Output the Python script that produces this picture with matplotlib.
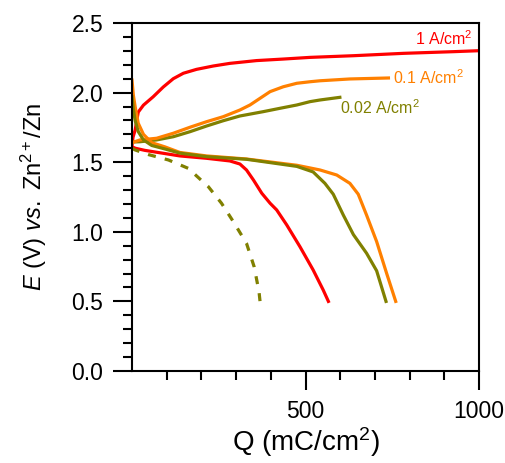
import numpy as np
import matplotlib
matplotlib.use("Agg")
import matplotlib.pyplot as plt
from matplotlib.ticker import MultipleLocator, FixedLocator, FormatStrFormatter

plt.rcParams['font.family'] = ['Liberation Sans', 'DejaVu Sans']
plt.rcParams['mathtext.fontset'] = 'custom'
plt.rcParams['mathtext.rm'] = 'Liberation Sans'
plt.rcParams['mathtext.it'] = 'Liberation Sans:italic'
plt.rcParams['mathtext.default'] = 'regular'

# 1 A/cm2
red_charge_q = [0, 3, 9, 18, 33, 61, 90, 119, 148, 186, 234, 282, 359, 436, 513, 638, 782, 926, 1000]
red_charge_e = [1.62, 1.68, 1.73, 1.86, 1.91, 1.97, 2.04, 2.10, 2.139, 2.167, 2.191, 2.21, 2.23,
                2.241, 2.253, 2.265, 2.282, 2.294, 2.301]
red_dis_q = [0, 10, 37, 138, 215, 282, 311, 330, 350, 374, 398, 417, 446, 484, 522, 551, 566]
red_dis_e = [1.61, 1.60, 1.585, 1.545, 1.528, 1.509, 1.487, 1.444, 1.372, 1.277, 1.205, 1.157,
             1.049, 0.893, 0.726, 0.582, 0.50]

# 0.1 A/cm2
orange_charge_q = [0, 23, 71, 119, 167, 215, 263, 311, 340, 369, 398, 436, 475, 513, 542, 628, 739]
orange_charge_e = [1.64, 1.66, 1.672, 1.708, 1.751, 1.791, 1.827, 1.875, 1.911, 1.959, 2.007,
                   2.042, 2.067, 2.078, 2.085, 2.098, 2.105]
orange_dis_q = [0, 4, 9, 18, 33, 57, 95, 138, 215, 330, 475, 542, 590, 628, 652, 676, 705, 734, 760]
orange_dis_e = [2.09, 1.98, 1.90, 1.78, 1.70, 1.64, 1.61, 1.57, 1.545, 1.523, 1.478, 1.444, 1.408,
                1.348, 1.27, 1.12, 0.93, 0.70, 0.50]

# 0.02 A/cm2
olive_charge_q = [0, 23, 71, 119, 167, 215, 263, 311, 378, 426, 475, 513, 542, 599]
olive_charge_e = [1.645, 1.647, 1.66, 1.683, 1.719, 1.76, 1.798, 1.832, 1.863, 1.887, 1.911,
                  1.935, 1.947, 1.966]
olive_dis_q = [0, 4, 9, 18, 33, 57, 95, 138, 215, 330, 475, 522, 556, 580, 609, 638, 676, 705, 732]
olive_dis_e = [1.97, 1.88, 1.80, 1.72, 1.66, 1.62, 1.595, 1.565, 1.54, 1.521, 1.47, 1.43, 1.348,
               1.27, 1.12, 0.98, 0.846, 0.72, 0.50]
olive_dash_q = [0, 9, 47, 105, 162, 220, 258, 292, 330, 352, 366, 369]
olive_dash_e = [1.60, 1.588, 1.555, 1.516, 1.456, 1.324, 1.205, 1.073, 0.917, 0.749, 0.57, 0.50]

labels = ['1 A/cm$^2$', '0.1 A/cm$^2$', '0.02 A/cm$^2$']
label_pos = [(816, 2.385), (751, 2.105), (599, 1.89)]
colors = ['#ff0000', '#ff8000', '#808000']

fig = plt.figure(figsize=(5.06, 4.63), dpi=100)
ax = fig.add_axes([132/506, 1 - 371/463, 347/506, 348/463])

lw = 2.3
ax.plot(red_charge_q, red_charge_e, color=colors[0], lw=lw)
ax.plot(red_dis_q, red_dis_e, color=colors[0], lw=lw)
ax.plot(olive_dash_q, olive_dash_e, color=colors[2], lw=lw, dashes=(2.5, 2.9))
ax.plot(olive_charge_q, olive_charge_e, color=colors[2], lw=lw)
ax.plot(orange_charge_q, orange_charge_e, color=colors[1], lw=lw)
ax.plot(orange_dis_q, orange_dis_e, color=colors[1], lw=lw)
ax.plot(olive_dis_q, olive_dis_e, color=colors[2], lw=lw)

for txt, (x, y), c in zip(labels, label_pos, colors):
    ax.text(x, y, txt, color=c, fontsize=11.5, va='center', ha='left')

ax.set_xlim(0, 1000)
ax.set_ylim(0, 2.5)
ax.xaxis.set_major_locator(FixedLocator([500, 1000]))
ax.xaxis.set_minor_locator(FixedLocator([100, 200, 300, 400, 600, 700, 800, 900]))
ax.yaxis.set_major_locator(MultipleLocator(0.5))
ax.yaxis.set_minor_locator(MultipleLocator(0.1))
ax.yaxis.set_major_formatter(FormatStrFormatter('%.1f'))

ax.tick_params(which='major', direction='out', length=13.7, width=1.5, labelsize=16.5, pad=7)
ax.tick_params(which='minor', direction='out', length=6.8, width=1.5)
for s in ax.spines.values():
    s.set_linewidth(1.5)

ax.set_xlabel('Q (mC/cm$^2$)', fontsize=20, labelpad=2)
ax.set_ylabel(r'$\it{E}$ (V) $\it{vs.}$ Zn$^{2+}$/Zn', fontsize=17, labelpad=16)

fig.savefig('out.png', dpi=100)
